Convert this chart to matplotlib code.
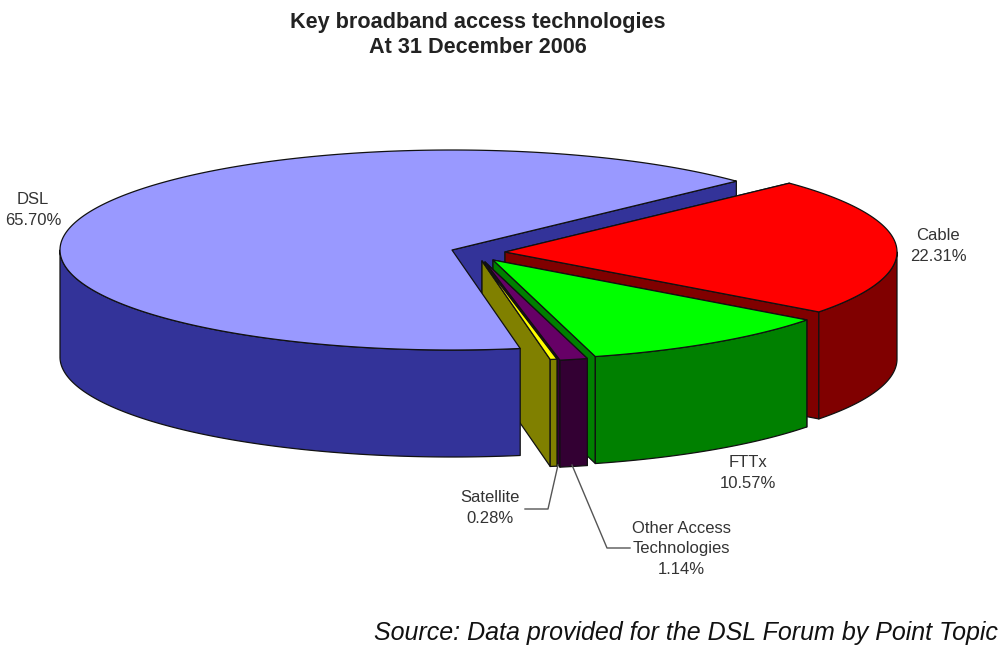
import numpy as np
import matplotlib
matplotlib.use("Agg")
import matplotlib.pyplot as plt
from matplotlib.patches import Polygon

plt.rcParams["font.family"] = ["Liberation Sans", "DejaVu Sans"]

# data, in the order the slices run around the pie
categorias = ["DSL", "Satellite", "Other Access\nTechnologies", "FTTx", "Cable"]
valores = [65.70, 0.28, 1.14, 10.57, 22.31]

titulo = "Key broadband access technologies\nAt 31 December 2006"
fonte = "Source: Data provided for the DSL Forum by Point Topic"

# style
cores_topo = ["#9999FF", "#FFFF00", "#660066", "#00FF00", "#FF0000"]
cores_lado = ["#333399", "#808000", "#330033", "#008000", "#800000"]
deslocamento = [(0, 0), (30, 11), (33, 12), (41, 10), (53, 2)]
pos_rotulo = [(33, 210), (490, 508), (681, 549), (748, 473), (938, 246)]

CENTRO = (452, 250)
RX, RY = 392, 100
ALTURA = 107
INICIO = 43.5


def ponto(cx, cy, ang):
    rad = np.deg2rad(ang)
    return cx + RX * np.cos(rad), cy - RY * np.sin(rad)


def arco(cx, cy, a0, a1, passo=0.5):
    n = max(int(abs(a1 - a0) / passo), 2)
    rad = np.deg2rad(np.linspace(a0, a1, n))
    return np.column_stack([cx + RX * np.cos(rad), cy - RY * np.sin(rad)])


def poly(ax, pts, cor):
    ax.add_patch(Polygon(pts, closed=True, facecolor=cor, edgecolor="#111111", linewidth=0.9, joinstyle="round"))


def face_corte(ax, cx, cy, ang, cor):
    x, y = ponto(cx, cy, ang)
    poly(ax, [(cx, cy), (x, y), (x, y + ALTURA), (cx, cy + ALTURA)], cor)


def parede(ax, cx, cy, a0, a1, cor):
    # only the part of the rim that faces the viewer (180 to 360 degrees)
    for k in (0, 360):
        ini, fim = max(a0, 180 + k), min(a1, 360 + k)
        if fim > ini:
            borda = arco(cx, cy, ini, fim)
            baixo = borda[::-1] + [0, ALTURA]
            poly(ax, np.vstack([borda, baixo]), cor)


def topo(ax, cx, cy, a0, a1, cor):
    poly(ax, np.vstack([[(cx, cy)], arco(cx, cy, a0, a1)]), cor)


fig = plt.figure(figsize=(10, 6.53), dpi=100)
ax = fig.add_axes([0, 0, 1, 1])
ax.set_xlim(0, 1000)
ax.set_ylim(653, 0)
ax.axis("off")

# angles run counter-clockwise from the DSL start
angulos = INICIO + np.cumsum([0] + valores) * 3.6
fatias = []
for i in range(len(valores)):
    cx = CENTRO[0] + deslocamento[i][0]
    cy = CENTRO[1] + deslocamento[i][1]
    fatias.append((cx, cy, angulos[i], angulos[i + 1]))

# back face of DSL has to go under the other slices, the rest of DSL goes over them
cx, cy, a0, a1 = fatias[0]
face_corte(ax, cx, cy, a0, cores_lado[0])

# Cable first, Satellite last
for i in range(len(valores) - 1, 0, -1):
    cx, cy, a0, a1 = fatias[i]
    face_corte(ax, cx, cy, a1, cores_lado[i])
    face_corte(ax, cx, cy, a0, cores_lado[i])
    parede(ax, cx, cy, a0, a1, cores_lado[i])
    topo(ax, cx, cy, a0, a1, cores_topo[i])

cx, cy, a0, a1 = fatias[0]
parede(ax, cx, cy, a0, a1, cores_lado[0])
topo(ax, cx, cy, a0, a1, cores_topo[0])

# leader lines
ax.plot([558, 548, 525], [465, 509, 509], color="#555555", lw=1)
ax.plot([572, 607, 630], [465, 548, 548], color="#555555", lw=1)

for nome, v, (x, y) in zip(categorias, valores, pos_rotulo):
    ax.text(x, y, f"{nome}\n{v:.2f}%", ha="center", va="center", fontsize=12, color="#333333", linespacing=1.45)

ax.text(478, 35, titulo, ha="center", va="center", fontsize=15.6, fontweight="bold", color="#222222", linespacing=1.3)
ax.text(998, 633, fonte, ha="right", va="center", fontsize=18, style="italic", color="#111111")

fig.savefig("out.png", dpi=100)
